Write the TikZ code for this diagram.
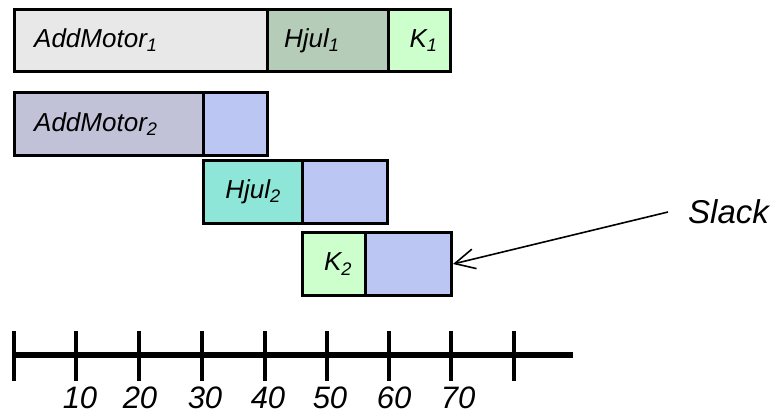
\documentclass[tikz,border=0pt]{standalone}
\usepackage{fontspec}
\setmainfont{Liberation Sans}
\usetikzlibrary{arrows.meta}
\definecolor{gray1}{HTML}{E8E8E8}
\definecolor{sage}{HTML}{B5CDB8}
\definecolor{mint}{HTML}{CCFFCC}
\definecolor{lilac}{HTML}{C1C1D8}
\definecolor{slackblue}{HTML}{BBC6F3}
\definecolor{teal1}{HTML}{8EE6D8}
\newcommand{\idx}[1]{\textsubscript{#1}}
\begin{document}
\begin{tikzpicture}[x=1pt,y=-1pt,
  taskbox/.style={draw=black, line width=3pt, rectangle, inner sep=0pt, anchor=north west},
  lbl/.style={font=\fontsize{26}{30}\selectfont\itshape, inner sep=0pt},
  num/.style={font=\fontsize{31}{34}\selectfont\itshape, inner sep=0pt, anchor=north},
  tick/.style={line width=3.5pt}]
\useasboundingbox (0,0) rectangle (776,416);

% row 1
\node[taskbox, fill=gray1, minimum width=253pt, minimum height=62pt] (am1) at (13,8) {};
\node[taskbox, fill=sage, minimum width=121pt, minimum height=62pt] (hj1) at (266,8) {};
\node[taskbox, fill=mint, minimum width=62pt, minimum height=62pt] (k1) at (387,8) {};
\node[lbl, anchor=west] (am1t) at ([xshift=21pt]am1.west) {AddMotor\idx{1}};
\node[lbl, anchor=west] (hj1t) at ([xshift=18pt]hj1.west) {Hjul\idx{1}};
\node[lbl] (k1t) at ([xshift=4pt]k1.center) {K\idx{1}};

% row 2
\node[taskbox, fill=lilac, minimum width=189pt, minimum height=63pt] (am2) at (13,91) {};
\node[taskbox, fill=slackblue, minimum width=64pt, minimum height=63pt] (s2) at (202,91) {};
\node[lbl, anchor=west] (am2t) at ([xshift=21pt]am2.west) {AddMotor\idx{2}};

% row 3
\node[taskbox, fill=teal1, minimum width=99pt, minimum height=63pt] (hj2) at (202,159) {};
\node[taskbox, fill=slackblue, minimum width=85pt, minimum height=63pt] (s3) at (301,159) {};
\node[lbl] (hj2t) at (hj2.center) {Hjul\idx{2}};

% row 4
\node[taskbox, fill=mint, minimum width=63pt, minimum height=63pt] (k2) at (301,231) {};
\node[taskbox, fill=slackblue, minimum width=86pt, minimum height=63pt] (s4) at (364,231) {};
\node[lbl] (k2t) at ([xshift=4pt]k2.center) {K\idx{2}};

% slack annotation
\node[font=\fontsize{33}{36}\selectfont\itshape, inner sep=0pt, anchor=west] (slack) at (688,212) {Slack};
\coordinate (slackstart) at (668,212);
\draw[line width=1.6pt, -{Straight Barb[length=20pt,width=20pt,line width=1.6pt]}] (slackstart) -- (s4.east);

% time axis
\coordinate (ax0) at (13,355);
\coordinate (ax1) at (573,355);
\draw[line width=6pt] (ax0) -- (ax1);
\foreach \x in {14,76,139,202,265,327,389,451,514} {
  \draw[tick] (\x,331) -- (\x,381);
}
\foreach \v/\x in {10/80,20/140,30/205,40/268,50/330,60/394,70/458} {
  \node[num] (n\v) at (\x,387) {\v};
}
\end{tikzpicture}
\end{document}
